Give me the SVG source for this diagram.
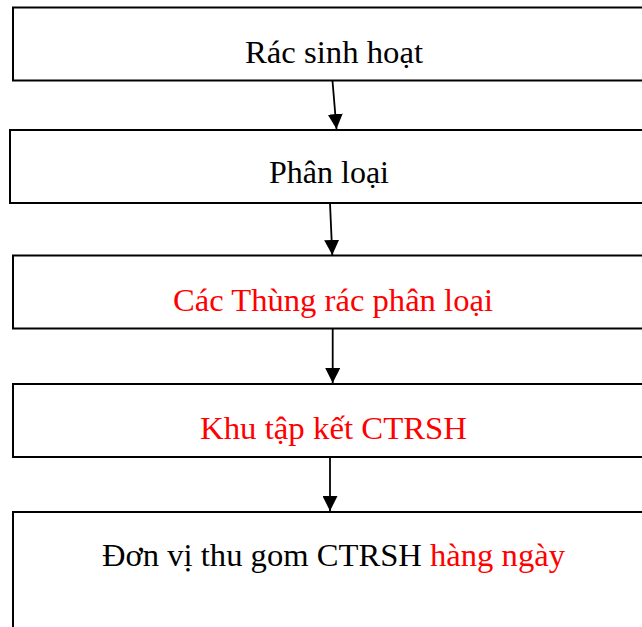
<svg xmlns="http://www.w3.org/2000/svg" width="642" height="627" viewBox="0 0 642 627">
<style>
.box{fill:#fff;stroke:#000;stroke-width:2}
.t{font-family:"Liberation Serif","Times New Roman",serif;font-size:31px;fill:#000}
.red{fill:#ff0000}
.conn{stroke:#000;stroke-width:1.8;fill:none}
</style>
<defs>
<marker id="ah" markerUnits="userSpaceOnUse" markerWidth="15" markerHeight="15" refX="15" refY="7.5" orient="auto">
<path d="M0,0 L15,7.5 L0,15 z" fill="#000"/>
</marker>
</defs>
<rect width="642" height="627" fill="#fff"/>
<g id="n1">
<rect class="box" x="13" y="7.5" width="660" height="73"/>
<text class="t" x="245" y="63" textLength="178" lengthAdjust="spacingAndGlyphs">Rác sinh hoạt</text>
</g>
<g id="n2">
<rect class="box" x="10" y="130" width="660" height="73"/>
<text class="t" x="269" y="183" textLength="120" lengthAdjust="spacingAndGlyphs">Phân loại</text>
</g>
<g id="n3">
<rect class="box" x="13" y="255.5" width="660" height="73"/>
<text class="t red" x="173" y="311" textLength="320" lengthAdjust="spacingAndGlyphs">Các Thùng rác phân loại</text>
</g>
<g id="n4">
<rect class="box" x="13" y="384" width="660" height="73"/>
<text class="t red" x="200" y="438.5" textLength="267" lengthAdjust="spacingAndGlyphs">Khu tập kết CTRSH</text>
</g>
<g id="n5">
<rect class="box" x="13" y="512" width="660" height="140"/>
<text class="t" x="102" y="566" textLength="463" lengthAdjust="spacingAndGlyphs">Đơn vị thu gom CTRSH <tspan class="red">hàng ngày</tspan></text>
</g>
<g id="connectors">
<line class="conn" x1="332.5" y1="81" x2="336.5" y2="129" marker-end="url(#ah)"/>
<line class="conn" x1="330" y1="203.5" x2="332.3" y2="255" marker-end="url(#ah)"/>
<line class="conn" x1="332.7" y1="329" x2="332.7" y2="383" marker-end="url(#ah)"/>
<line class="conn" x1="330" y1="458" x2="330" y2="511" marker-end="url(#ah)"/>
</g>
</svg>
